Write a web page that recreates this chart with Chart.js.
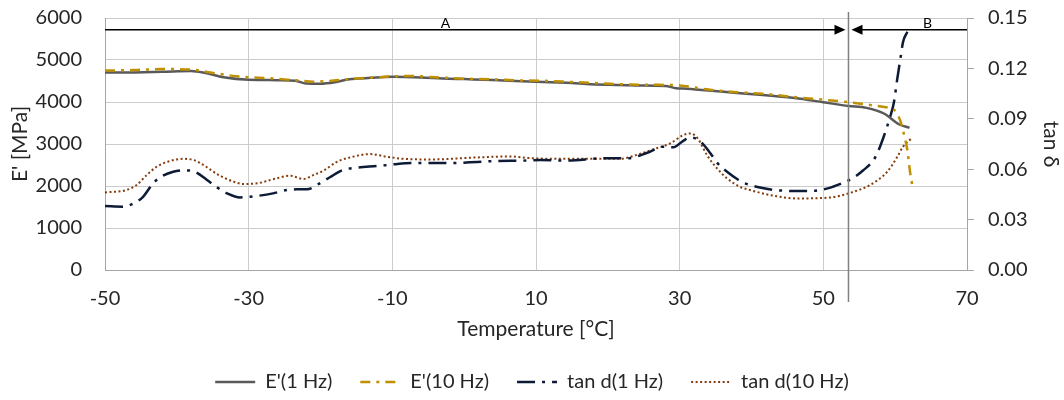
<!DOCTYPE html>
<html>
<head>
<meta charset="utf-8">
<script src="https://cdn.jsdelivr.net/npm/chart.js@4/dist/chart.umd.min.js"></script>
<style>
  body { margin: 0; background: #fff; }
</style>
</head>
<body>
<canvas id="grafico" width="1064" height="400"></canvas>
<script>
// E' (1 Hz) - temperatura [°C] e módulo [MPa]
const tempE1 = [-50, -46, -42, -38, -36, -33.5, -30, -26, -23.5, -22, -20, -18, -16, -13, -10, -6, -3, 0, 4, 8, 12, 15, 17, 20, 24, 28, 29.5, 31, 34, 38, 42, 46, 50, 53.5, 56, 58.5, 60.5, 62];
const valE1 = [4700, 4705, 4720, 4740, 4690, 4590, 4530, 4520, 4505, 4440, 4435, 4470, 4540, 4575, 4600, 4585, 4560, 4545, 4525, 4495, 4470, 4455, 4430, 4410, 4395, 4380, 4330, 4315, 4275, 4215, 4160, 4095, 3995, 3905, 3860, 3720, 3470, 3385];

// E' (10 Hz)
const tempE10 = [-50, -46, -42, -38, -34.5, -31, -27, -23, -21, -19, -15.5, -11, -8, -4, 0, 4, 7.5, 11, 15, 19, 23, 26, 30, 34, 37.5, 42, 45.5, 49, 53, 56.5, 58.5, 59.8, 60.7, 61.2, 61.7, 62.1, 62.5];
const valE10 = [4750, 4760, 4785, 4770, 4680, 4600, 4565, 4510, 4485, 4500, 4550, 4600, 4620, 4590, 4555, 4540, 4515, 4505, 4475, 4445, 4415, 4410, 4395, 4295, 4240, 4190, 4125, 4070, 4005, 3930, 3880, 3820, 3560, 3250, 2850, 2300, 1920];

// tan d (1 Hz)
const tempTan1 = [-50, -47.5, -46, -44.7, -43.3, -42.3, -40.5, -38.6, -37.5, -35.8, -34.4, -33, -31.2, -29.8, -26.6, -24.7, -23.3, -21.9, -20.1, -18.7, -16.9, -14.9, -12.1, -9.3, -6.5, -2, 1.8, 4.6, 8.2, 10.6, 14.3, 19.4, 22.7, 25.5, 27.7, 29.1, 30.5, 31.5, 32.9, 34.3, 35.2, 36.6, 38.2, 39.1, 41.7, 44.5, 47.8, 50.6, 52.8, 54.2, 55.6, 57, 57.7, 58.4, 59.3, 59.8, 60.3, 60.7, 61.1, 61.7];
const valTan1 = [0.0381, 0.0377, 0.0397, 0.0436, 0.0516, 0.0552, 0.0585, 0.0593, 0.0585, 0.0536, 0.0492, 0.0456, 0.0432, 0.0436, 0.0456, 0.0476, 0.048, 0.048, 0.0516, 0.0552, 0.0595, 0.0609, 0.0619, 0.0631, 0.0637, 0.0637, 0.0643, 0.0649, 0.0651, 0.0655, 0.0651, 0.0665, 0.0665, 0.0698, 0.0734, 0.073, 0.0769, 0.079, 0.0764, 0.0694, 0.0639, 0.0585, 0.0536, 0.0516, 0.0486, 0.0472, 0.047, 0.0486, 0.052, 0.0549, 0.0595, 0.0655, 0.0714, 0.0793, 0.0912, 0.0992, 0.114, 0.125, 0.1358, 0.1418];

// tan d (10 Hz)
const tempTan10 = [-50, -47, -45.6, -44.2, -42.8, -40.9, -39.1, -37.7, -36.3, -34.4, -32.1, -30.8, -28.8, -26.6, -24.2, -22.4, -21, -19.6, -17.7, -15.5, -13.1, -10.8, -8.5, -4.7, 1.8, 6.4, 9.2, 12.4, 17.1, 21.7, 24.1, 26.3, 28.7, 30.5, 31.5, 32.5, 33.8, 35.2, 36.6, 38.4, 39.8, 42.6, 46.4, 51, 53.8, 56.5, 58.9, 60.3, 61.1, 62.4];
const valTan10 = [0.0462, 0.0476, 0.0506, 0.0565, 0.0615, 0.0649, 0.0662, 0.0655, 0.0625, 0.0571, 0.0526, 0.0512, 0.0516, 0.054, 0.0561, 0.0542, 0.0565, 0.0591, 0.0644, 0.0674, 0.069, 0.0674, 0.0662, 0.0658, 0.067, 0.0676, 0.0666, 0.0662, 0.0662, 0.0662, 0.0686, 0.0718, 0.0754, 0.0803, 0.0813, 0.0784, 0.0684, 0.0605, 0.0545, 0.0495, 0.0476, 0.0446, 0.0426, 0.0432, 0.046, 0.0506, 0.0585, 0.0674, 0.0734, 0.0788];

// limite entre as regiões A e B
const limiteAB = 53.5;
const nivelSeta = 5720;
const regioes = [{ texto: 'A', t: -2.6 }, { texto: 'B', t: 64.5 }];

const fonte = 'Lato';
const corTexto = '#262626';
const corGrade = '#CCCCCC';
const corEixo = '#A6A6A6';

function pontos(temps, vals) {
    return temps.map(function (t, i) { return { x: t, y: vals[i] }; });
}

function ponta(c, xp, yp, dir) {
    // triângulo da seta, dir = -1 aponta pra direita, 1 pra esquerda
    const base = xp + dir * 11;
    c.beginPath();
    c.moveTo(xp, yp);
    c.lineTo(base, yp - 5);
    c.lineTo(base, yp + 5);
    c.closePath();
    c.fill();
}

const setasAB = {
    id: 'setasAB',
    afterDatasetsDraw(chart) {
        const c = chart.ctx;
        const area = chart.chartArea;
        const xLim = chart.scales.x.getPixelForValue(limiteAB);
        const ySeta = chart.scales.y.getPixelForValue(nivelSeta);
        c.save();
        // linha vertical separando A e B
        c.strokeStyle = '#808080';
        c.lineWidth = 1.5;
        c.beginPath();
        c.moveTo(xLim, area.top - 6);
        c.lineTo(xLim, area.bottom + 32);
        c.stroke();
        // linhas das setas
        c.strokeStyle = '#000';
        c.fillStyle = '#000';
        c.lineWidth = 1.5;
        c.beginPath();
        c.moveTo(area.left, ySeta);
        c.lineTo(xLim - 8, ySeta);
        c.moveTo(xLim + 8, ySeta);
        c.lineTo(area.right, ySeta);
        c.stroke();
        ponta(c, xLim - 3, ySeta, -1);
        ponta(c, xLim + 3, ySeta, 1);
        c.font = '14px ' + fonte;
        c.textAlign = 'center';
        c.textBaseline = 'bottom';
        regioes.forEach(function (r) {
            c.fillText(r.texto, chart.scales.x.getPixelForValue(r.t), ySeta + 1);
        });
        c.restore();
    }
};

// legenda com o mesmo traçado das linhas
function labelsLegenda(chart) {
    const itens = Chart.defaults.plugins.legend.labels.generateLabels(chart);
    itens.forEach(function (item) {
        const ds = chart.data.datasets[item.datasetIndex];
        item.lineDash = ds.borderDash || [];
        item.lineWidth = ds.borderWidth;
        item.strokeStyle = ds.borderColor;
    });
    return itens;
}

const dados = {
    datasets: [
        {
            label: "E'(1 Hz)",
            data: pontos(tempE1, valE1),
            borderColor: '#595959',
            borderWidth: 2.5,
            yAxisID: 'y',
            order: 1
        },
        {
            label: "E'(10 Hz)",
            data: pontos(tempE10, valE10),
            borderColor: '#BF9000',
            borderWidth: 2.5,
            borderDash: [10, 6, 3, 6],
            yAxisID: 'y',
            order: 0
        },
        {
            label: 'tan d(1 Hz)',
            data: pontos(tempTan1, valTan1),
            borderColor: '#0E1B36',
            borderWidth: 2.5,
            borderDash: [18, 7, 3, 7],
            yAxisID: 'y2',
            order: 2
        },
        {
            label: 'tan d(10 Hz)',
            data: pontos(tempTan10, valTan10),
            borderColor: '#843C0C',
            borderWidth: 2,
            borderDash: [2, 2.5],
            yAxisID: 'y2',
            order: 3
        }
    ]
};

const config = {
    type: 'line',
    data: dados,
    options: {
        responsive: false,
        animation: false,
        layout: { padding: { top: 18, bottom: 0 } },
        elements: {
            point: { radius: 0 },
            line: { tension: 0.4, cubicInterpolationMode: 'monotone', fill: false }
        },
        plugins: {
            tooltip: { enabled: false },
            legend: {
                position: 'bottom',
                maxHeight: 56,
                labels: {
                    color: corTexto,
                    font: { family: fonte, size: 20 },
                    usePointStyle: true,
                    pointStyle: 'line',
                    pointStyleWidth: 40,
                    boxWidth: 40,
                    boxHeight: 10,
                    padding: 28,
                    generateLabels: labelsLegenda,
                    sort: function (a, b) { return a.datasetIndex - b.datasetIndex; }
                }
            }
        },
        scales: {
            x: {
                type: 'linear',
                min: -50,
                max: 70,
                border: { color: corEixo },
                grid: { color: corGrade, drawTicks: false },
                ticks: {
                    stepSize: 20,
                    padding: 17,
                    color: corTexto,
                    font: { family: fonte, size: 20 },
                    callback: function (v) { return String(v); }
                },
                title: {
                    display: true,
                    text: 'Temperature [°C]',
                    color: corTexto,
                    font: { family: fonte, size: 21 },
                    padding: { top: 0, bottom: 2 }
                },
                afterFit: function (scale) { scale.height = 74; }
            },
            y: {
                position: 'left',
                min: 0,
                max: 6000,
                border: { color: corEixo },
                grid: { color: corGrade, tickLength: 20, tickColor: 'rgba(0,0,0,0)' },
                ticks: {
                    stepSize: 1000,
                    padding: 3,
                    color: corTexto,
                    font: { family: fonte, size: 20 },
                    callback: function (v) { return String(v); }
                },
                title: {
                    display: true,
                    text: "E' [MPa]",
                    color: corTexto,
                    font: { family: fonte, size: 21 },
                    padding: 8
                },
                afterFit: function (scale) { scale.width = 105; }
            },
            y2: {
                position: 'right',
                min: 0,
                max: 0.15,
                border: { color: corEixo },
                grid: { drawOnChartArea: false, tickLength: 18, tickColor: corEixo, tickBorderDash: [6, 40] },
                ticks: {
                    stepSize: 0.03,
                    padding: 3,
                    color: corTexto,
                    font: { family: fonte, size: 20 },
                    callback: function (v) { return v.toFixed(2); }
                },
                title: {
                    display: true,
                    text: 'tan δ',
                    color: corTexto,
                    font: { family: fonte, size: 21 },
                    padding: 1
                },
                afterFit: function (scale) { scale.width = 97; }
            }
        }
    },
    plugins: [setasAB]
};

const ctx = document.getElementById('grafico');
const grafico = new Chart(ctx, config);
</script>
</body>
</html>
